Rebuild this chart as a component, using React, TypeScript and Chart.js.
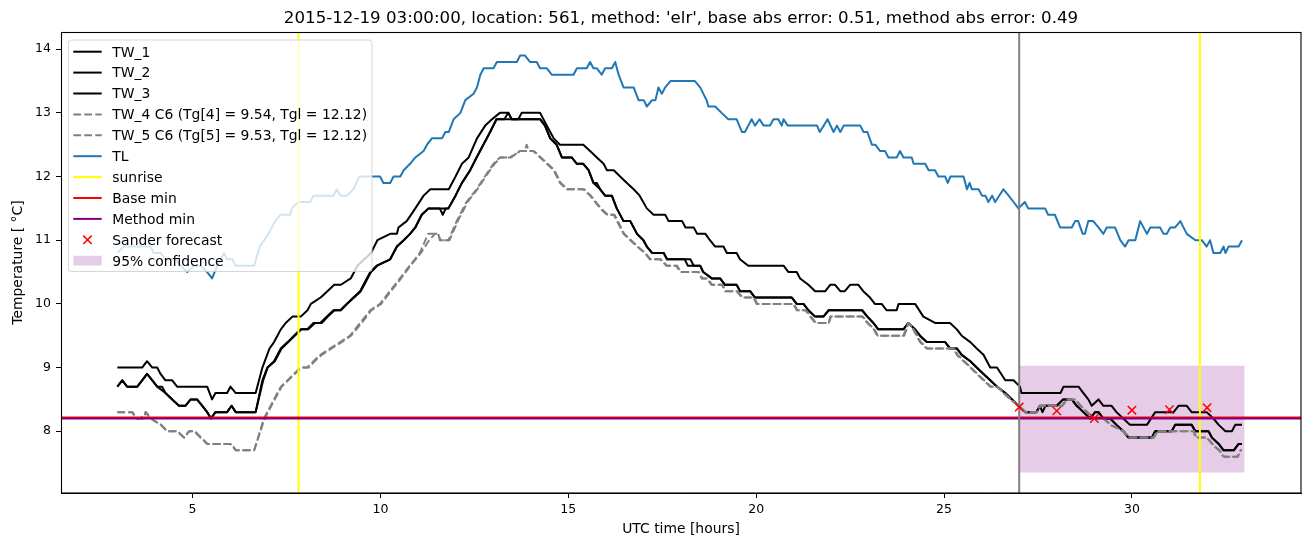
import React, { useEffect, useRef } from 'react';
import { Chart, registerables } from 'chart.js';

Chart.register(...registerables);

// ---------- text ----------
const TITLE = "2015-12-19 03:00:00, location: 561, method: 'elr', base abs error: 0.51, method abs error: 0.49";
const X_LABEL = 'UTC time [hours]';
const Y_LABEL = 'Temperature [ \u00B0C]';
const X_TICKS = [5, 10, 15, 20, 25, 30];
const Y_TICKS = [8, 9, 10, 11, 12, 13, 14];
const X_RANGE = [1.5, 34.5];
const Y_RANGE = [7.03, 14.27];

// ---------- series: [hour, temperature] ----------
const tw1: number[][] = [
  [3.0, 9.0], [3.66, 9.0], [3.79, 9.1], [3.93, 9.0], [4.06, 9.0], [4.15, 8.9], [4.28, 8.8], [4.46, 8.8], [4.59, 8.7],
  [5.39, 8.7], [5.52, 8.5], [5.61, 8.6], [5.92, 8.6], [6.01, 8.7], [6.15, 8.6], [6.68, 8.6], [6.86, 9.0], [7.05, 9.3],
  [7.17, 9.4], [7.35, 9.6], [7.48, 9.7], [7.66, 9.8], [7.88, 9.8], [8.06, 9.9], [8.15, 10.0], [8.41, 10.1], [8.59, 10.2],
  [8.77, 10.3], [8.95, 10.3], [9.21, 10.4], [9.39, 10.6], [9.57, 10.7], [9.75, 10.8], [9.92, 11.0], [10.26, 11.1],
  [10.44, 11.1], [10.48, 11.2], [10.7, 11.3], [10.93, 11.5], [11.15, 11.7], [11.33, 11.8], [11.82, 11.8], [12.0, 12.0],
  [12.17, 12.2], [12.35, 12.3], [12.57, 12.6], [12.79, 12.8], [12.97, 12.9], [13.18, 13.0], [13.41, 13.0], [13.49, 12.9],
  [13.67, 12.9], [13.76, 13.0], [14.25, 13.0], [14.43, 12.8], [14.61, 12.6], [14.78, 12.5], [15.4, 12.5], [15.58, 12.4],
  [15.76, 12.3], [15.94, 12.2], [16.03, 12.1], [16.21, 12.1], [16.38, 12.0], [16.56, 11.9], [16.74, 11.8], [16.9, 11.7],
  [17.09, 11.5], [17.27, 11.4], [17.58, 11.4], [17.67, 11.3], [18.03, 11.3], [18.12, 11.2], [18.34, 11.2], [18.43, 11.1],
  [18.65, 11.1], [18.77, 11.0], [18.91, 10.9], [19.13, 10.9], [19.22, 10.8], [19.48, 10.8], [19.57, 10.7], [19.79, 10.6],
  [20.73, 10.6], [20.86, 10.5], [21.08, 10.5], [21.17, 10.4], [21.39, 10.3], [21.57, 10.2], [21.84, 10.2], [21.97, 10.3],
  [22.1, 10.3], [22.24, 10.2], [22.36, 10.2], [22.5, 10.3], [22.72, 10.3], [22.85, 10.2], [23.03, 10.1], [23.16, 10.0],
  [23.34, 10.0], [23.47, 9.9], [23.74, 9.9], [23.79, 10.0], [24.23, 10.0], [24.45, 9.8], [24.76, 9.7], [25.16, 9.7],
  [25.34, 9.6], [25.47, 9.5], [25.7, 9.4], [25.87, 9.3], [26.05, 9.2], [26.23, 9.0], [26.41, 9.0], [26.63, 8.8],
  [26.85, 8.8], [27.02, 8.7], [27.06, 8.6], [28.1, 8.6], [28.18, 8.7], [28.58, 8.7], [28.71, 8.6], [28.84, 8.5],
  [28.93, 8.4], [29.11, 8.5], [29.24, 8.4], [29.46, 8.4], [29.59, 8.3], [29.77, 8.2], [29.95, 8.1], [30.4, 8.1],
  [30.62, 8.3], [31.11, 8.3], [31.24, 8.4], [31.46, 8.4], [31.59, 8.3], [31.99, 8.3], [32.17, 8.2], [32.31, 8.1],
  [32.49, 8.0], [32.66, 8.0], [32.75, 8.1], [32.93, 8.1],
];

const tw2: number[][] = [
  [3.0, 8.7], [3.13, 8.8], [3.26, 8.7], [3.53, 8.7], [3.66, 8.8], [3.79, 8.9], [3.93, 8.8], [4.06, 8.7], [4.19, 8.7],
  [4.28, 8.6], [4.46, 8.5], [4.64, 8.4], [4.81, 8.4], [4.95, 8.5], [5.12, 8.5], [5.26, 8.4], [5.39, 8.3], [5.48, 8.2],
  [5.61, 8.3], [5.92, 8.3], [6.04, 8.4], [6.15, 8.3], [6.68, 8.3], [6.86, 8.8], [6.99, 9.0], [7.17, 9.1], [7.35, 9.3],
  [7.53, 9.4], [7.7, 9.5], [7.87, 9.6], [8.05, 9.6], [8.22, 9.7], [8.4, 9.7], [8.57, 9.8], [8.75, 9.9], [8.93, 9.9],
  [9.1, 10.0], [9.28, 10.1], [9.46, 10.2], [9.55, 10.3], [9.73, 10.5], [9.9, 10.6], [10.26, 10.7], [10.44, 10.9],
  [10.62, 11.0], [10.79, 11.1], [10.93, 11.2], [11.1, 11.4], [11.28, 11.5], [11.81, 11.5], [12.0, 11.7], [12.17, 11.9],
  [12.39, 12.1], [12.56, 12.3], [12.74, 12.5], [12.92, 12.7], [13.09, 12.9], [14.25, 12.9], [14.38, 12.8], [14.52, 12.6],
  [14.69, 12.5], [14.83, 12.3], [15.09, 12.3], [15.23, 12.2], [15.4, 12.2], [15.54, 12.1], [15.67, 11.9], [15.85, 11.8],
  [15.98, 11.7], [16.16, 11.7], [16.29, 11.5], [16.47, 11.3], [16.65, 11.3], [16.83, 11.1], [17.0, 11.0], [17.09, 10.9],
  [17.23, 10.8], [17.54, 10.8], [17.63, 10.7], [18.25, 10.7], [18.34, 10.6], [18.51, 10.6], [18.59, 10.5], [18.82, 10.4],
  [19.04, 10.4], [19.17, 10.3], [19.48, 10.3], [19.57, 10.2], [19.84, 10.2], [19.97, 10.1], [20.95, 10.1], [21.08, 10.0],
  [21.26, 10.0], [21.39, 9.9], [21.57, 9.8], [21.79, 9.8], [21.93, 9.9], [22.82, 9.9], [22.96, 9.8], [23.12, 9.7],
  [23.25, 9.6], [23.92, 9.6], [24.05, 9.7], [24.23, 9.6], [24.36, 9.5], [24.54, 9.4], [25.03, 9.4], [25.16, 9.3],
  [25.34, 9.3], [25.47, 9.2], [25.7, 9.1], [25.87, 9.0], [26.05, 8.9], [26.23, 8.8], [26.41, 8.7], [26.63, 8.6],
  [26.81, 8.5], [26.98, 8.4], [27.16, 8.3], [27.46, 8.3], [27.55, 8.4], [28.0, 8.4], [28.17, 8.5], [28.4, 8.5],
  [28.53, 8.4], [28.71, 8.3], [28.89, 8.2], [29.02, 8.3], [29.11, 8.3], [29.24, 8.2], [29.42, 8.2], [29.59, 8.1],
  [29.77, 8.0], [29.91, 7.9], [30.53, 7.9], [30.62, 8.0], [31.06, 8.0], [31.15, 8.1], [31.59, 8.1], [31.69, 8.0],
  [32.04, 8.0], [32.13, 7.9], [32.31, 7.8], [32.44, 7.7], [32.71, 7.7], [32.84, 7.8], [32.93, 7.8],
];

const tw3: number[][] = [
  [3.0, 8.7], [3.13, 8.8], [3.26, 8.7], [3.53, 8.7], [3.66, 8.8], [3.79, 8.9], [3.93, 8.8], [4.06, 8.7], [4.28, 8.6],
  [4.46, 8.5], [4.64, 8.4], [4.81, 8.4], [4.95, 8.5], [5.12, 8.5], [5.26, 8.4], [5.39, 8.3], [5.5, 8.2], [5.61, 8.3],
  [5.92, 8.3], [6.04, 8.4], [6.15, 8.3], [6.68, 8.3], [6.88, 8.8], [7.0, 9.0], [7.19, 9.1], [7.37, 9.3], [7.55, 9.4],
  [7.72, 9.5], [7.9, 9.6], [8.08, 9.6], [8.26, 9.7], [8.44, 9.7], [8.6, 9.8], [8.78, 9.9], [8.95, 9.9], [9.12, 10.0],
  [9.3, 10.1], [9.48, 10.2], [9.57, 10.3], [9.75, 10.5], [9.92, 10.6], [10.26, 10.7], [10.44, 10.9], [10.62, 11.0],
  [10.79, 11.1], [10.93, 11.2], [11.1, 11.4], [11.28, 11.5], [11.58, 11.5], [11.66, 11.4], [11.74, 11.5], [11.81, 11.5],
  [12.0, 11.7], [12.17, 11.9], [12.39, 12.1], [12.56, 12.3], [12.74, 12.5], [12.92, 12.7], [13.09, 12.9], [13.3, 12.9],
  [13.4, 13.0], [13.5, 12.9], [14.25, 12.9], [14.38, 12.8], [14.52, 12.6], [14.69, 12.5], [14.83, 12.3], [15.09, 12.3],
  [15.23, 12.2], [15.4, 12.2], [15.54, 12.1], [15.67, 11.9], [15.76, 11.9], [15.85, 11.8], [15.98, 11.7], [16.16, 11.7],
  [16.29, 11.5], [16.47, 11.3], [16.65, 11.3], [16.83, 11.1], [17.0, 11.0], [17.09, 10.9], [17.23, 10.8], [17.54, 10.8],
  [17.63, 10.7], [18.1, 10.7], [18.18, 10.6], [18.51, 10.6], [18.59, 10.5], [18.82, 10.4], [19.04, 10.4], [19.17, 10.3],
  [19.48, 10.3], [19.57, 10.2], [19.84, 10.2], [19.97, 10.1], [20.95, 10.1], [21.08, 10.0], [21.26, 10.0], [21.39, 9.9],
  [21.57, 9.8], [21.79, 9.8], [21.93, 9.9], [22.82, 9.9], [22.96, 9.8], [23.12, 9.7], [23.25, 9.6], [23.92, 9.6],
  [24.05, 9.7], [24.23, 9.6], [24.36, 9.5], [24.54, 9.4], [25.03, 9.4], [25.16, 9.3], [25.34, 9.3], [25.47, 9.2],
  [25.7, 9.1], [25.87, 9.0], [26.05, 8.9], [26.23, 8.8], [26.41, 8.7], [26.63, 8.6], [26.81, 8.5], [26.98, 8.4],
  [27.16, 8.3], [27.46, 8.3], [27.55, 8.4], [27.62, 8.3], [27.7, 8.4], [28.0, 8.4], [28.17, 8.5], [28.4, 8.5],
  [28.53, 8.4], [28.71, 8.3], [28.89, 8.2], [29.02, 8.3], [29.11, 8.3], [29.24, 8.2], [29.42, 8.2], [29.59, 8.1],
  [29.77, 8.0], [29.91, 7.9], [30.53, 7.9], [30.62, 8.0], [31.06, 8.0], [31.15, 8.1], [31.59, 8.1], [31.69, 8.0],
  [32.04, 8.0], [32.13, 7.9], [32.31, 7.8], [32.44, 7.7], [32.71, 7.7], [32.84, 7.8], [32.93, 7.8],
];

const tw4: number[][] = [
  [3.0, 8.3], [3.39, 8.3], [3.5, 8.2], [3.63, 8.2], [3.75, 8.3], [3.88, 8.2], [4.15, 8.1], [4.32, 8.0], [4.59, 8.0],
  [4.77, 7.9], [4.9, 8.0], [5.04, 8.0], [5.21, 7.9], [5.39, 7.8], [6.01, 7.8], [6.15, 7.7], [6.64, 7.7], [6.9, 8.2],
  [7.17, 8.5], [7.35, 8.7], [7.53, 8.8], [7.7, 8.9], [7.87, 9.0], [8.05, 9.0], [8.22, 9.1], [8.4, 9.2], [8.66, 9.3],
  [8.93, 9.4], [9.19, 9.5], [9.46, 9.7], [9.73, 9.9], [9.99, 10.0], [10.25, 10.2], [10.52, 10.4], [10.78, 10.6],
  [11.05, 10.8], [11.27, 11.1], [11.54, 11.1], [11.58, 11.0], [11.81, 11.0], [12.03, 11.3], [12.29, 11.6], [12.56, 11.8],
  [12.78, 12.0], [13.01, 12.2], [13.18, 12.3], [13.45, 12.3], [13.72, 12.4], [13.85, 12.4], [13.89, 12.5], [13.95, 12.4],
  [14.07, 12.4], [14.25, 12.3], [14.43, 12.2], [14.61, 12.1], [14.78, 11.9], [14.96, 11.8], [15.4, 11.8], [15.58, 11.7],
  [15.85, 11.5], [16.03, 11.4], [16.21, 11.4], [16.47, 11.1], [16.65, 11.0], [16.83, 10.9], [17.04, 10.8], [17.17, 10.7],
  [17.44, 10.7], [17.61, 10.6], [17.88, 10.6], [17.97, 10.5], [18.46, 10.5], [18.55, 10.4], [18.68, 10.4], [18.81, 10.3],
  [19.09, 10.3], [19.17, 10.2], [19.48, 10.2], [19.62, 10.1], [19.93, 10.1], [20.01, 10.0], [20.99, 10.0], [21.08, 9.9],
  [21.31, 9.9], [21.44, 9.8], [21.57, 9.7], [21.93, 9.7], [21.97, 9.8], [22.82, 9.8], [22.96, 9.7], [23.13, 9.6],
  [23.22, 9.5], [23.92, 9.5], [24.05, 9.7], [24.18, 9.6], [24.36, 9.4], [24.54, 9.3], [25.25, 9.3], [25.34, 9.2],
  [25.52, 9.1], [25.7, 9.0], [25.87, 8.9], [26.05, 8.8], [26.23, 8.7], [26.41, 8.7], [26.58, 8.6], [26.76, 8.5],
  [26.98, 8.4], [27.16, 8.3], [27.46, 8.3], [27.55, 8.4], [28.13, 8.4], [28.26, 8.5], [28.49, 8.5], [28.62, 8.4],
  [28.8, 8.3], [28.97, 8.2], [29.24, 8.2], [29.42, 8.1], [29.77, 8.0], [29.91, 7.9], [30.57, 7.9], [30.66, 8.0],
  [31.64, 8.0], [31.69, 7.9], [31.99, 7.9], [32.13, 7.8], [32.31, 7.7], [32.44, 7.6], [32.8, 7.6], [32.89, 7.7],
  [32.93, 7.7],
];

const tw5: number[][] = [
  [3.0, 8.3], [3.4, 8.3], [3.52, 8.2], [3.7, 8.2], [3.76, 8.3], [3.9, 8.2], [4.17, 8.1], [4.34, 8.0], [4.6, 8.0],
  [4.78, 7.9], [4.92, 8.0], [5.06, 8.0], [5.23, 7.9], [5.4, 7.8], [6.03, 7.8], [6.16, 7.7], [6.64, 7.7], [6.92, 8.2],
  [7.19, 8.5], [7.37, 8.7], [7.55, 8.8], [7.72, 8.9], [7.9, 9.0], [8.1, 9.0], [8.25, 9.1], [8.44, 9.2], [8.7, 9.3],
  [8.97, 9.4], [9.22, 9.5], [9.5, 9.7], [9.76, 9.9], [10.02, 10.0], [10.28, 10.2], [10.55, 10.4], [10.8, 10.6],
  [11.08, 10.8], [11.3, 11.0], [11.45, 11.1], [11.54, 11.1], [11.6, 11.0], [11.84, 11.0], [12.06, 11.3], [12.32, 11.6],
  [12.58, 11.8], [12.8, 12.0], [13.04, 12.2], [13.2, 12.3], [13.48, 12.3], [13.7, 12.4], [14.08, 12.4], [14.27, 12.3],
  [14.45, 12.2], [14.63, 12.1], [14.8, 11.9], [14.98, 11.8], [15.42, 11.8], [15.6, 11.7], [15.87, 11.5], [16.05, 11.4],
  [16.23, 11.4], [16.49, 11.1], [16.67, 11.0], [16.85, 10.9], [17.05, 10.8], [17.19, 10.7], [17.46, 10.7], [17.63, 10.6],
  [17.9, 10.6], [17.99, 10.5], [18.48, 10.5], [18.57, 10.4], [18.7, 10.4], [18.83, 10.3], [19.1, 10.3], [19.19, 10.2],
  [19.5, 10.2], [19.64, 10.1], [19.95, 10.1], [20.03, 10.0], [21.0, 10.0], [21.1, 9.9], [21.33, 9.9], [21.46, 9.8],
  [21.59, 9.7], [21.94, 9.7], [21.99, 9.8], [22.84, 9.8], [22.98, 9.7], [23.15, 9.6], [23.24, 9.5], [23.94, 9.5],
  [24.07, 9.7], [24.2, 9.6], [24.38, 9.4], [24.56, 9.3], [25.27, 9.3], [25.36, 9.2], [25.54, 9.1], [25.72, 9.0],
  [25.89, 8.9], [26.07, 8.8], [26.25, 8.7], [26.43, 8.7], [26.6, 8.6], [26.78, 8.5], [27.0, 8.4], [27.18, 8.3],
  [27.48, 8.3], [27.57, 8.4], [28.15, 8.4], [28.28, 8.5], [28.51, 8.5], [28.64, 8.4], [28.82, 8.3], [28.99, 8.2],
  [29.26, 8.2], [29.44, 8.1], [29.79, 8.0], [29.93, 7.9], [30.59, 7.9], [30.68, 8.0], [31.66, 8.0], [31.71, 7.9],
  [32.01, 7.9], [32.15, 7.8], [32.33, 7.7], [32.46, 7.6], [32.82, 7.6], [32.9, 7.7], [32.93, 7.7],
];

const tl: number[][] = [
  [3.0, 10.8], [3.17, 10.9], [3.88, 10.9], [3.97, 10.8], [4.15, 10.8], [4.28, 10.7], [4.55, 10.7], [4.68, 10.6],
  [4.86, 10.5], [5.04, 10.6], [5.21, 10.6], [5.39, 10.5], [5.52, 10.4], [5.66, 10.6], [5.84, 10.8], [5.92, 10.7],
  [6.06, 10.7], [6.15, 10.6], [6.64, 10.6], [6.79, 10.9], [7.02, 11.1], [7.2, 11.3], [7.34, 11.4], [7.6, 11.4],
  [7.64, 11.5], [7.82, 11.6], [8.13, 11.6], [8.22, 11.7], [8.75, 11.7], [8.84, 11.8], [8.93, 11.7], [9.11, 11.7],
  [9.28, 11.8], [9.44, 12.0], [9.99, 12.0], [10.08, 11.9], [10.26, 11.9], [10.35, 12.0], [10.53, 12.0], [10.62, 12.1],
  [10.79, 12.2], [10.93, 12.3], [11.15, 12.4], [11.24, 12.5], [11.37, 12.6], [11.64, 12.6], [11.73, 12.7], [11.82, 12.7],
  [11.95, 12.9], [12.13, 13.0], [12.26, 13.2], [12.48, 13.3], [12.57, 13.4], [12.66, 13.6], [12.75, 13.7], [13.01, 13.7],
  [13.1, 13.8], [13.63, 13.8], [13.72, 13.9], [13.85, 13.9], [13.98, 13.8], [14.16, 13.8], [14.25, 13.7], [14.43, 13.7],
  [14.56, 13.6], [15.14, 13.6], [15.23, 13.7], [15.49, 13.7], [15.58, 13.8], [15.67, 13.7], [15.76, 13.7], [15.89, 13.6],
  [15.98, 13.7], [16.16, 13.7], [16.25, 13.8], [16.34, 13.6], [16.47, 13.4], [16.74, 13.4], [16.87, 13.2], [17.01, 13.2],
  [17.09, 13.1], [17.23, 13.2], [17.32, 13.2], [17.4, 13.4], [17.49, 13.3], [17.58, 13.4], [17.72, 13.5], [18.37, 13.5],
  [18.51, 13.4], [18.68, 13.2], [18.73, 13.1], [18.91, 13.1], [19.08, 13.0], [19.26, 12.9], [19.48, 12.9], [19.62, 12.7],
  [19.7, 12.7], [19.79, 12.8], [19.88, 12.9], [19.97, 12.8], [20.09, 12.9], [20.2, 12.8], [20.37, 12.8], [20.46, 12.9],
  [20.59, 12.9], [20.68, 12.8], [20.73, 12.9], [20.84, 12.8], [21.62, 12.8], [21.69, 12.7], [21.8, 12.8], [21.9, 12.9],
  [22.06, 12.7], [22.15, 12.8], [22.24, 12.7], [22.33, 12.8], [22.77, 12.8], [22.86, 12.7], [22.96, 12.7], [23.08, 12.5],
  [23.17, 12.5], [23.3, 12.4], [23.43, 12.4], [23.52, 12.3], [23.74, 12.3], [23.83, 12.4], [23.92, 12.3], [24.14, 12.3],
  [24.19, 12.2], [24.5, 12.2], [24.59, 12.1], [24.76, 12.1], [24.85, 12.0], [25.03, 12.0], [25.1, 11.9], [25.17, 12.0],
  [25.52, 12.0], [25.61, 11.8], [25.68, 11.9], [25.74, 11.8], [25.92, 11.8], [26.01, 11.7], [26.1, 11.7], [26.18, 11.6],
  [26.28, 11.7], [26.36, 11.6], [26.58, 11.8], [26.72, 11.7], [26.85, 11.6], [26.98, 11.5], [27.15, 11.6], [27.24, 11.5],
  [27.69, 11.5], [27.77, 11.4], [27.95, 11.4], [28.09, 11.2], [28.4, 11.2], [28.49, 11.3], [28.57, 11.3], [28.69, 11.1],
  [28.75, 11.1], [28.84, 11.3], [28.97, 11.3], [29.11, 11.2], [29.24, 11.1], [29.33, 11.2], [29.55, 11.2], [29.69, 11.0],
  [29.82, 10.9], [29.91, 11.0], [30.09, 11.0], [30.22, 11.3], [30.4, 11.1], [30.49, 11.2], [30.75, 11.2], [30.84, 11.1],
  [30.93, 11.1], [31.02, 11.2], [31.15, 11.2], [31.29, 11.3], [31.46, 11.1], [31.69, 11.0], [31.86, 11.0], [31.99, 10.9],
  [32.08, 11.0], [32.17, 10.8], [32.35, 10.8], [32.44, 10.9], [32.49, 10.8], [32.57, 10.9], [32.84, 10.9], [32.93, 11.0],
];

const sunriseHours = [7.82, 31.81];
const forecastIssueHour = 27.0;
const baseMin = 8.215;
const methodMin = 8.2;
const sanderHours = [27, 28, 29, 30, 31, 32];
const sanderTemps = [8.38, 8.32, 8.2, 8.33, 8.34, 8.37];
const confHours = [27, 33];
const confLow = 7.35;
const confHigh = 9.03;

// ---------- styles ----------
const FONT = 'DejaVu Sans';
const DASH = [7.7, 3.3];
const BLUE = '#1f77b4';
const GRAY = '#808080';
const CONF_FILL = 'rgba(128,0,128,0.2)';

const LEGEND_ITEMS = [
  { label: 'TW_1', kind: 'line', color: '#000000', dash: [] as number[] },
  { label: 'TW_2', kind: 'line', color: '#000000', dash: [] as number[] },
  { label: 'TW_3', kind: 'line', color: '#000000', dash: [] as number[] },
  { label: 'TW_4 C6 (Tg[4] = 9.54, Tgl = 12.12)', kind: 'line', color: GRAY, dash: DASH },
  { label: 'TW_5 C6 (Tg[5] = 9.53, Tgl = 12.12)', kind: 'line', color: GRAY, dash: DASH },
  { label: 'TL', kind: 'line', color: BLUE, dash: [] as number[] },
  { label: 'sunrise', kind: 'line', color: '#ffff00', dash: [] as number[] },
  { label: 'Base min', kind: 'line', color: '#ff0000', dash: [] as number[] },
  { label: 'Method min', kind: 'line', color: '#800080', dash: [] as number[] },
  { label: 'Sander forecast', kind: 'x', color: '#ff0000', dash: [] as number[] },
  { label: '95% confidence', kind: 'patch', color: CONF_FILL, dash: [] as number[] },
];

const toXY = (arr: number[][]) => arr.map(([x, y]) => ({ x, y }));

const lineDs = (label: string, arr: number[][], color: string, dash: number[] = []) => ({
  label,
  data: toXY(arr),
  borderColor: color,
  backgroundColor: color,
  borderWidth: 2,
  borderDash: dash,
  borderJoinStyle: 'round',
  pointRadius: 0,
  fill: false,
  tension: 0,
});

const framePlugin = {
  id: 'mplFrame',
  beforeDraw(chart: any) {
    const { ctx, width, height } = chart;
    ctx.save();
    ctx.fillStyle = '#ffffff';
    ctx.fillRect(0, 0, width, height);
    ctx.restore();
  },
  afterDatasetsDraw(chart: any) {
    const { ctx, chartArea } = chart;
    ctx.save();
    ctx.strokeStyle = '#000000';
    ctx.lineWidth = 1.1;
    ctx.strokeRect(chartArea.left + 0.5, chartArea.top + 0.5, chartArea.right - chartArea.left - 0.5, chartArea.bottom - chartArea.top - 0.5);
    ctx.restore();
  },
  afterDraw(chart: any) {
    const { ctx, chartArea } = chart;
    ctx.save();
    // title
    ctx.fillStyle = '#000000';
    ctx.font = `16.67px "${FONT}"`;
    ctx.textAlign = 'center';
    ctx.textBaseline = 'alphabetic';
    ctx.fillText(TITLE, (chartArea.left + chartArea.right) / 2, 23);

    // legend
    const bx = 68.5, by = 40, bw = 303.5, bh = 231.5, r = 3;
    ctx.beginPath();
    ctx.moveTo(bx + r, by);
    ctx.lineTo(bx + bw - r, by);
    ctx.arcTo(bx + bw, by, bx + bw, by + r, r);
    ctx.lineTo(bx + bw, by + bh - r);
    ctx.arcTo(bx + bw, by + bh, bx + bw - r, by + bh, r);
    ctx.lineTo(bx + r, by + bh);
    ctx.arcTo(bx, by + bh, bx, by + bh - r, r);
    ctx.lineTo(bx, by + r);
    ctx.arcTo(bx, by, bx + r, by, r);
    ctx.closePath();
    ctx.fillStyle = 'rgba(255,255,255,0.8)';
    ctx.fill();
    ctx.strokeStyle = 'rgba(204,204,204,0.8)';
    ctx.lineWidth = 1;
    ctx.stroke();

    const hx0 = 73.3, hx1 = 101.7, tx = 112.3;
    ctx.font = `13.9px "${FONT}"`;
    ctx.textAlign = 'left';
    LEGEND_ITEMS.forEach((it, i) => {
      const cy = 51.7 + i * 20.9;
      if (it.kind === 'line') {
        ctx.beginPath();
        ctx.setLineDash(it.dash);
        ctx.strokeStyle = it.color;
        ctx.lineWidth = 2;
        ctx.moveTo(hx0, cy);
        ctx.lineTo(hx1, cy);
        ctx.stroke();
        ctx.setLineDash([]);
      } else if (it.kind === 'x') {
        const cx = (hx0 + hx1) / 2, s = 4.2;
        ctx.beginPath();
        ctx.strokeStyle = it.color;
        ctx.lineWidth = 1.5;
        ctx.moveTo(cx - s, cy - s); ctx.lineTo(cx + s, cy + s);
        ctx.moveTo(cx - s, cy + s); ctx.lineTo(cx + s, cy - s);
        ctx.stroke();
      } else {
        ctx.fillStyle = it.color;
        ctx.fillRect(hx0, cy - 4.9, hx1 - hx0, 9.7);
      }
      ctx.fillStyle = '#000000';
      ctx.fillText(it.label, tx, cy + 4.8);
    });
    ctx.restore();
  },
};

export default function App() {
  const ref = useRef<HTMLCanvasElement>(null);

  useEffect(() => {
    document.body.style.margin = '0';
    const canvas = ref.current;
    if (!canvas) return;

    const [yLo, yHi] = Y_RANGE;
    const [xLo, xHi] = X_RANGE;

    const datasets: any[] = [
      {
        label: '95% confidence',
        data: confHours.map((h) => ({ x: h, y: confHigh })),
        borderWidth: 0,
        borderColor: 'rgba(0,0,0,0)',
        backgroundColor: CONF_FILL,
        pointRadius: 0,
        fill: { value: confLow },
      },
      lineDs('TW_1', tw1, '#000000'),
      lineDs('TW_2', tw2, '#000000'),
      lineDs('TW_3', tw3, '#000000'),
      lineDs('TW_4', tw4, GRAY, DASH),
      lineDs('TW_5', tw5, GRAY, DASH),
      lineDs('TL', tl, BLUE),
      ...sunriseHours.map((h) => lineDs('sunrise', [[h, yLo], [h, yHi]], '#ffff00')),
      lineDs('Base min', [[xLo, baseMin], [xHi, baseMin]], '#ff0000'),
      lineDs('Method min', [[xLo, methodMin], [xHi, methodMin]], '#800080'),
      lineDs('forecast time', [[forecastIssueHour, yLo], [forecastIssueHour, yHi]], GRAY),
      {
        label: 'Sander forecast',
        data: sanderHours.map((h, i) => ({ x: h, y: sanderTemps[i] })),
        showLine: false,
        pointStyle: 'crossRot',
        pointRadius: 5.9,
        pointBorderWidth: 1.5,
        pointBorderColor: '#ff0000',
        borderColor: '#ff0000',
        backgroundColor: '#ff0000',
        fill: false,
      },
    ];
    datasets.forEach((d, i) => { d.order = datasets.length - i; });

    const tickFont = { family: FONT, size: 12.5 };
    const labelFont = { family: FONT, size: 13.9 };

    const chart = new Chart(canvas, {
      type: 'line',
      data: { datasets },
      plugins: [framePlugin],
      options: {
        animation: false,
        responsive: false,
        devicePixelRatio: 1,
        events: [],
        layout: { padding: { left: 0, right: 10, top: 32, bottom: 0 } },
        plugins: {
          legend: { display: false },
          tooltip: { enabled: false },
          title: { display: false },
        },
        scales: {
          x: {
            type: 'linear',
            min: xLo,
            max: xHi,
            bounds: 'data',
            afterBuildTicks: (s: any) => { s.ticks = X_TICKS.map((v) => ({ value: v })); },
            afterFit: (s: any) => { s.height = 54; },
            ticks: { font: tickFont, color: '#000000', padding: 4, maxRotation: 0, autoSkip: false },
            grid: { display: true, drawOnChartArea: false, drawTicks: true, tickLength: 5, tickWidth: 1, tickColor: '#000000' },
            border: { display: true, color: '#000000', width: 1 },
            title: { display: true, text: X_LABEL, font: labelFont, color: '#000000', padding: { top: 0, bottom: 9.7 } },
          },
          y: {
            type: 'linear',
            min: yLo,
            max: yHi,
            bounds: 'data',
            afterBuildTicks: (s: any) => { s.ticks = Y_TICKS.map((v) => ({ value: v })); },
            afterFit: (s: any) => { s.width = 61; },
            ticks: { font: tickFont, color: '#000000', padding: 5, autoSkip: false },
            grid: { display: true, drawOnChartArea: false, drawTicks: true, tickLength: 5, tickWidth: 1, tickColor: '#000000' },
            border: { display: true, color: '#000000', width: 1 },
            title: { display: true, text: Y_LABEL, font: labelFont, color: '#000000', padding: { top: 9.7, bottom: 0 } },
          },
        },
      } as any,
    });

    return () => chart.destroy();
  }, []);

  return (
    <canvas
      ref={ref}
      width={1311}
      height={547}
      style={{ display: 'block', width: '1311px', height: '547px' }}
    />
  );
}
